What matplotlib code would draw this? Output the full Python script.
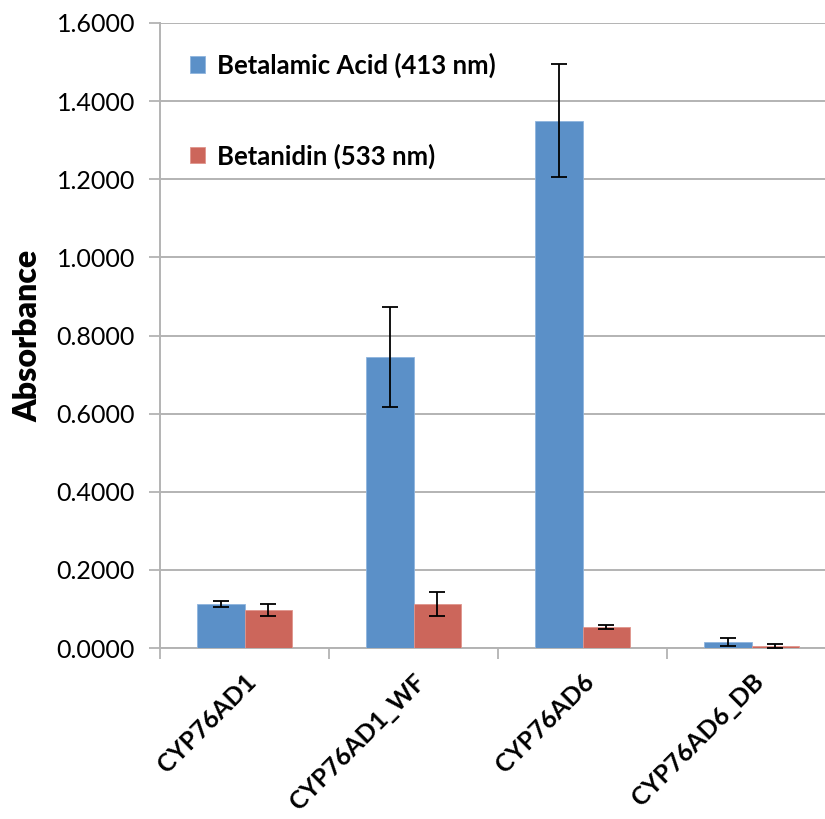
import matplotlib.pyplot as plt
import numpy as np
from matplotlib.ticker import FormatStrFormatter, FixedLocator

# Data
categories = ['CYP76AD1', 'CYP76AD1_WF', 'CYP76AD6', 'CYP76AD6_DB']
betalamic = [0.113, 0.746, 1.350, 0.015]
betalamic_err = [0.008, 0.128, 0.144, 0.010]
betanidin = [0.098, 0.113, 0.054, 0.006]
betanidin_err = [0.015, 0.030, 0.005, 0.005]

plt.rcParams['font.family'] = ['Lato', 'DejaVu Sans']

fig = plt.figure(figsize=(8.25, 8.19), dpi=100)
ax = fig.add_axes([160 / 825, 171 / 819, 665 / 825, 625 / 819])

x = np.arange(len(categories))
w = 0.284
grid_col = '#B3B3B3'

ax.bar(x - w / 2, betalamic, w, color='#5B90C8', edgecolor='#8FB4DE', linewidth=0.6,
       label='Betalamic Acid (413 nm)', zorder=3)
ax.bar(x + w / 2, betanidin, w, color='#CC665B', edgecolor='#E0958C', linewidth=0.6,
       label='Betanidin (533 nm)', zorder=3)
ax.errorbar(x - w / 2, betalamic, yerr=betalamic_err, fmt='none', ecolor='black',
            elinewidth=1.3, capsize=5.5, capthick=1.3, zorder=4)
ax.errorbar(x + w / 2, betanidin, yerr=betanidin_err, fmt='none', ecolor='black',
            elinewidth=1.3, capsize=5.5, capthick=1.3, zorder=4)

ax.set_ylim(0, 1.6)
ax.set_yticks(np.arange(0, 1.61, 0.2))
ax.yaxis.set_major_formatter(FormatStrFormatter('%.4f'))
ax.set_xlim(-0.5, -0.5 + 665 / 169)

# category boundaries as tick marks, labels at centres
ax.xaxis.set_major_locator(FixedLocator(np.arange(-0.5, 4, 1.0)))
ax.xaxis.set_major_formatter(plt.NullFormatter())
ax.set_xticks(x, minor=True)
ax.set_xticklabels(categories, minor=True, rotation=45, ha='right',
                   rotation_mode='anchor', fontsize=18, fontweight='bold')
ax.tick_params(axis='x', which='minor', length=0, pad=16)
ax.tick_params(axis='x', which='major', length=8, width=1.3, color=grid_col)
ax.tick_params(axis='y', length=8, width=1.3, color=grid_col, labelsize=18, pad=10)

ax.grid(True, axis='y', color=grid_col, linewidth=1.4, zorder=0)
ax.set_axisbelow(True)
for side in ['top', 'right']:
    ax.spines[side].set_visible(False)
for side in ['left', 'bottom']:
    ax.spines[side].set_color(grid_col)
    ax.spines[side].set_linewidth(1.4)

ax.set_ylabel('Absorbance', fontsize=23, fontweight='heavy', labelpad=10)

leg = ax.legend(loc='upper left', bbox_to_anchor=(0.01, 0.99), frameon=False,
                prop={'size': 18.5, 'weight': 'bold'}, handlelength=0.6,
                handleheight=0.6, handletextpad=0.45, labelspacing=2.55)

plt.savefig('out.png', dpi=100)
plt.close(fig)
